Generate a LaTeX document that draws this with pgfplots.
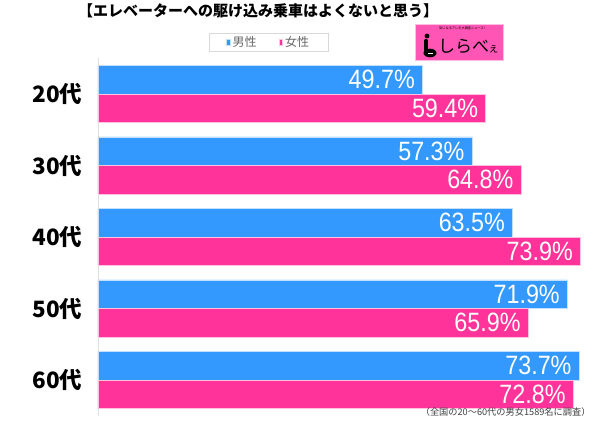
\documentclass[border=0pt]{standalone}
\usepackage{pgfplots}
\pgfplotsset{compat=1.18}
\usepackage{fontspec}
\setmainfont{Liberation Sans}
\newfontfamily\jp{Noto Sans CJK JP}
\definecolor{mblue}{RGB}{51,153,255}
\definecolor{fpink}{RGB}{255,51,153}
\definecolor{logopink}{RGB}{255,85,180}
\begin{document}
\begin{tikzpicture}[x=1pt,y=1pt]
\useasboundingbox (0,0) rectangle (600,424);
\begin{axis}[
  at={(98pt,8.25pt)}, anchor=south west,
  scale only axis, width=502pt, height=357.5pt,
  xbar, bar shift=0pt, bar width=0.399,
  xmin=0, xmax=76.9, ymin=-0.5, ymax=4.5,
  y dir=reverse,
  axis x line=none,
  axis y line=left,
  y axis line style={draw=black!12, line width=0.8pt, -},
  ytick={0,1,2,3,4},
  yticklabels={20代,30代,40代,50代,60代},
  major tick length=0pt,
  yticklabel style={font=\jp\bfseries\fontsize{22.5}{22.5}\selectfont, anchor=east, xshift=-12pt},
  point meta=x,
  /pgf/number format/assume math mode=true,
  nodes near coords={\scalebox{0.88}[1]{\pgfmathprintnumber[fixed,precision=1,fixed zerofill,assume math mode=true]{\pgfplotspointmeta}\%}},
  every node near coord/.append style={anchor=east, xshift=-4pt, text=white, font=\fontsize{26.5}{26.5}\selectfont},
  legend style={at={(0.34,1.045)}, anchor=center, draw=black!15, legend columns=2,
    font=\jp\fontsize{12}{12}\selectfont, text=black!60, inner ysep=1pt, inner xsep=17pt,
    /tikz/every even column/.append style={column sep=20pt}},
  legend image code/.code={\fill[#1] (0pt,-2.8pt) rectangle (3.8pt,2.8pt);},
  clip=false,
]
\addplot[fill=mblue, draw=white!70!mblue, line width=0.6pt] coordinates {(49.7,-0.1995) (57.3,0.8005) (63.5,1.8005) (71.9,2.8005) (73.7,3.8005)};
\addlegendentry{男性}
\addplot[fill=fpink, draw=white!70!fpink, line width=0.6pt] coordinates {(59.4,0.1995) (64.8,1.1995) (73.9,2.1995) (65.9,3.1995) (72.8,4.1995)};
\addlegendentry{女性}
\end{axis}
\node[font=\jp\bfseries\fontsize{15}{15}\selectfont] at (258,413) {【エレベーターへの駆け込み乗車はよくないと思う】};
% logo
\fill[logopink] (415,364) rectangle (503,400);
\draw[white!60!logopink, line width=0.5pt] (415,364) rectangle (503,400);
\node[font=\jp\fontsize{3.2}{3.2}\selectfont, text=black] at (462,395.5) {気になるアレを大調査ニュース!};
\fill[black] (427,388) circle (2.4);
\draw[black, line width=3.2pt, line cap=round] (426,383.5) -- (426,374);
\fill[black] (430,371) ellipse (6.5 and 4.3);
\fill[white] (427.5,370.5) rectangle (433,371.2);
\node[font=\jp\fontsize{17}{17}\selectfont, anchor=west, inner sep=0pt] at (438,378) {しらべ};
\node[font=\jp\fontsize{11}{11}\selectfont, anchor=west, inner sep=0pt] at (488,375) {ぇ};
% footnote
\node[font=\jp\fontsize{9.2}{9.2}\selectfont, text=black!75, anchor=east] at (594,12) {（全国の20～60代の男女1589名に調査）};
\end{tikzpicture}
\end{document}
